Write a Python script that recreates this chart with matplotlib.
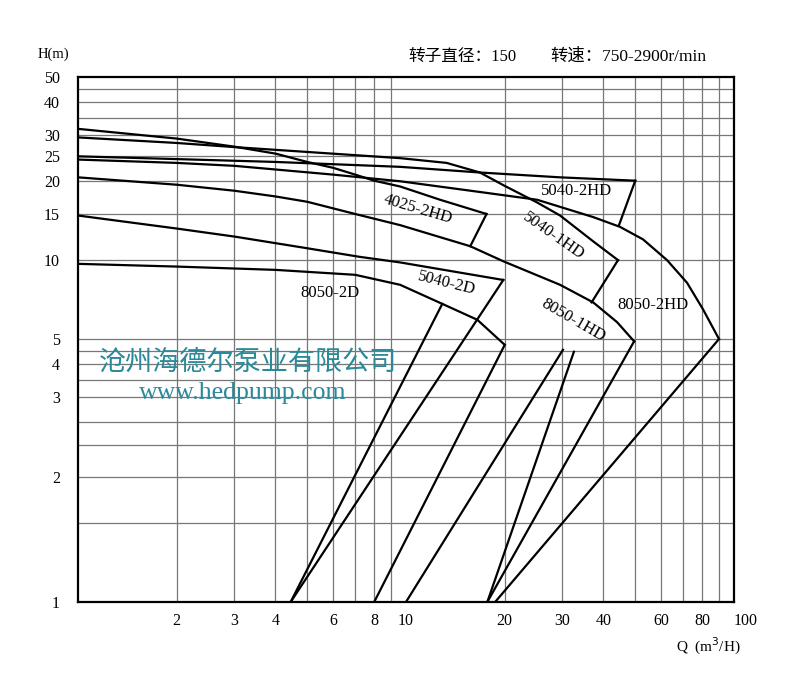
import matplotlib
matplotlib.use('Agg')
import matplotlib.pyplot as plt
import numpy as np
from matplotlib.ticker import NullLocator

plt.rcParams['font.family'] = ['Liberation Serif', 'Noto Sans CJK SC']

# axis ticks / grid
q_ticks = [2, 3, 4, 6, 8, 10, 20, 30, 40, 60, 80, 100]
q_ticklabels = ['2', '3', '4', '6', '8', '10', '20', '30', '40', '60', '80', '100']
h_ticks = [1, 2, 3, 4, 5, 10, 15, 20, 25, 30, 40, 50]
h_ticklabels = ['1', '2', '3', '4', '5', '10', '15', '20', '25', '30', '40', '50']
q_grid = [2, 3, 4, 5, 6, 7, 8, 9, 20, 30, 40, 50, 60, 70, 80, 90]
h_grid = [1.55, 2, 2.35, 2.65, 3, 3.5, 4, 4.5, 5, 10, 15, 20, 25, 30, 35, 40, 45]

# H-Q curves, Q in m3/h, H in m
q_4025_2hd = [1, 2, 3, 4, 5, 6, 7, 8, 9.6, 12.7, 17.6]
h_4025_2hd = [31.7, 29.1, 27.1, 25.5, 23.7, 22.5, 21.2, 20.1, 19.1, 17.0, 15.0]

q_5040_1hd = [1, 2, 3, 9.6, 13.3, 16.8, 20, 25.1, 29.5, 37.2, 44.3]
h_5040_1hd = [29.4, 28.0, 27.0, 24.5, 23.5, 21.6, 19.2, 16.6, 14.8, 11.8, 10.0]

q_5040_2hd = [1, 2, 4, 9.6, 16.8, 29.5, 50]
h_5040_2hd = [24.9, 24.3, 23.7, 22.7, 21.6, 20.7, 20.1]

q_8050_2hd = [1, 2, 3, 6, 9.6, 16.8, 25.1, 37.2, 44.9, 52.8, 62.5, 71.9, 80.4, 90]
h_8050_2hd = [24.2, 23.5, 22.9, 21.2, 20.0, 18.2, 17.0, 14.6, 13.4, 12.0, 10.0, 8.2, 6.5, 5.0]

q_8050_1hd = [1, 2, 3, 4, 5, 7, 9.6, 15.7, 19.8, 29.5, 37.2, 44.0, 49.6]
h_8050_1hd = [20.7, 19.4, 18.4, 17.5, 16.7, 15.0, 13.6, 11.3, 9.9, 8.05, 6.9, 5.8, 4.9]

q_5040_2d = [1, 2, 3, 5, 7.2, 9.6, 19.8]
h_5040_2d = [14.8, 13.2, 12.3, 11.1, 10.3, 9.8, 8.4]

q_8050_2d = [1, 2, 4, 7, 9.6, 12.9, 16.5, 20]
h_8050_2d = [9.68, 9.45, 9.18, 8.79, 8.05, 6.81, 5.92, 4.75]

# straight boundary lines: (q1, h1, q2, h2)
bounds = [
    (50, 20.1, 44.6, 13.6),
    (17.6, 15.0, 15.7, 11.3),
    (44.3, 10.0, 36.8, 6.9),
    (90, 5.0, 18.7, 1),
    (49.6, 4.9, 17.7, 1),
    (20, 4.75, 8.0, 1),
    (19.8, 8.4, 4.45, 1),
    (12.9, 6.81, 4.45, 1),
    (30.1, 4.55, 10, 1),
    (32.5, 4.47, 17.7, 1),
]

# model labels: text, q, h, rotation
model_labels = [
    ('4025-2HD', 10.9, 15.6, -16.5),
    ('5040-2HD', 33.2, 18.3, 0),
    ('5040-1HD', 28.1, 12.3, -35),
    ('8050-1HD', 32.3, 5.87, -30),
    ('8050-2HD', 56.6, 6.76, 0),
    ('5040-2D', 13.3, 8.13, -14),
    ('8050-2D', 5.87, 7.51, 0),
]

# the H axis of the sheet is log above 3 m but stretched below it
_lg = np.array([-5, 0, np.log10(2), np.log10(3), np.log10(50), 5])
_pos = np.array([-2076.5, 0, 125, 204.7, 524.7, 1389.2])


def h_fwd(h):
    h = np.asarray(h, dtype=float)
    return np.interp(np.log10(np.maximum(h, 1e-5)), _lg, _pos)


def h_inv(y):
    return 10 ** np.interp(np.asarray(y, dtype=float), _pos, _lg)


fig = plt.figure(figsize=(8, 6.96), dpi=100)
ax = fig.add_axes([0.0975, 0.1351, 0.82, 0.7543])
ax.set_xscale('log')
ax.set_yscale('function', functions=(h_fwd, h_inv))
ax.set_xlim(1, 100)
ax.set_ylim(1, 50)

for q in q_grid:
    ax.axvline(q, color='#777777', lw=0.9, zorder=1)
for h in h_grid:
    ax.axhline(h, color='#777777', lw=0.9, zorder=1)

for q, h in [(q_4025_2hd, h_4025_2hd), (q_5040_1hd, h_5040_1hd), (q_5040_2hd, h_5040_2hd),
             (q_8050_2hd, h_8050_2hd), (q_8050_1hd, h_8050_1hd), (q_5040_2d, h_5040_2d),
             (q_8050_2d, h_8050_2d)]:
    ax.plot(q, h, color='black', lw=1.6, zorder=3, solid_joinstyle='round')

for q1, h1, q2, h2 in bounds:
    ax.plot([q1, q2], [h1, h2], color='black', lw=1.6, zorder=3)

for txt, q, h, rot in model_labels:
    ax.text(q, h, txt, fontsize=12, rotation=rot, rotation_mode='anchor',
            ha='center', va='center', zorder=4)

ax.set_xticks(q_ticks)
ax.set_xticklabels(q_ticklabels)
ax.set_yticks(h_ticks)
ax.set_yticklabels(h_ticklabels)
ax.xaxis.set_minor_locator(NullLocator())
ax.yaxis.set_minor_locator(NullLocator())
ax.tick_params(axis='x', length=0, labelsize=11.5, pad=8)
ax.tick_params(axis='y', length=0, labelsize=11.5, pad=13)
ax.get_xticklabels()[-1].set_ha('left')

for sp in ax.spines.values():
    sp.set_linewidth(1.6)
    sp.set_color('black')

# watermark
fig.text(248 / 800, 1 - 362 / 696, '沧州海德尔泵业有限公司', family='Noto Sans CJK SC',
         fontsize=19.5, color='#2a8a99', ha='center', va='center', zorder=5)
fig.text(243 / 800, 1 - 393 / 696, 'www.hedpump.com', fontsize=18.5, color='#2a8a99',
         ha='center', va='center', zorder=5)

fig.text(53 / 800, 1 - 54 / 696, 'H(m)', fontsize=10.5, ha='center', va='center')
fig.text(408 / 800, 1 - 57 / 696, '转子直径：150', fontsize=12, ha='left', va='center')
fig.text(550 / 800, 1 - 57 / 696, '转速：750-2900r/min', fontsize=12.5, ha='left', va='center')
fig.text(708 / 800, 1 - 646 / 696, 'Q  (m$^3$/H)', fontsize=11, ha='center', va='center')

fig.savefig('out.png', dpi=100)
